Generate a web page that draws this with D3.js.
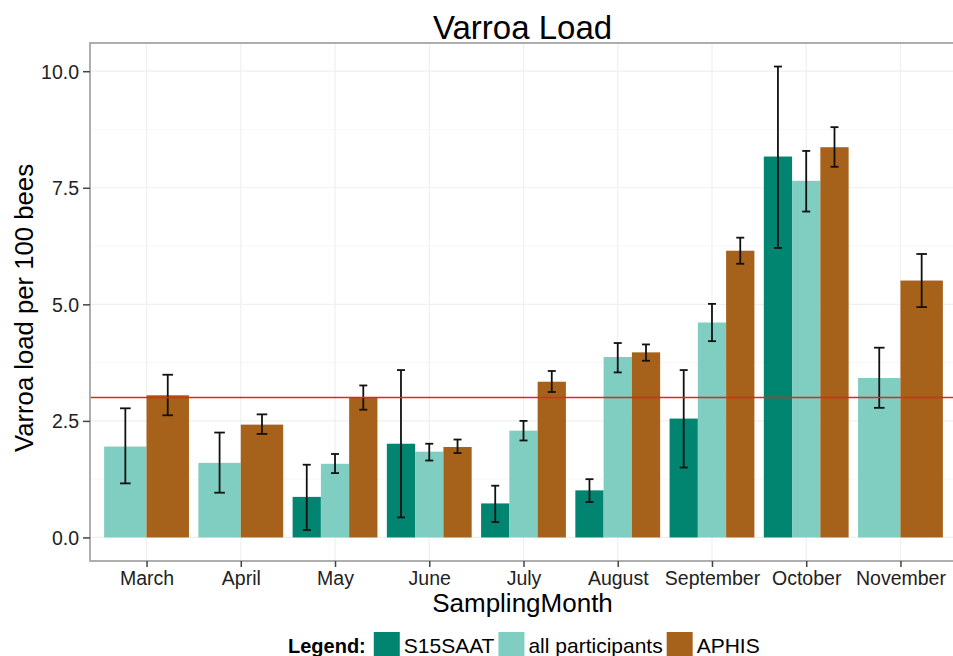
<!DOCTYPE html>
<html>
<head>
<meta charset="utf-8">
<script src="https://cdn.jsdelivr.net/npm/d3@7"></script>
<style>
  body { margin: 0; background: #fff; }
  svg text { font-family: "Liberation Sans", Arial, Helvetica, sans-serif; }
</style>
</head>
<body>
<div id="chart"></div>
<script>
// data (null = no bar for that group)
var months = ["March", "April", "May", "June", "July", "August", "September", "October", "November"];
var groups = ["S15SAAT", "all participants", "APHIS"];
var colors = ["#018571", "#80cdc1", "#a6611a"];

var s15Mean  = [null, null, 0.87, 2.01, 0.73, 1.01, 2.55, 8.17, null];
var s15Lo    = [null, null, 0.16, 0.43, 0.33, 0.76, 1.50, 6.21, null];
var s15Hi    = [null, null, 1.56, 3.59, 1.11, 1.25, 3.59, 10.10, null];

var allMean  = [1.95, 1.60, 1.58, 1.84, 2.29, 3.87, 4.61, 7.65, 3.42];
var allLo    = [1.16, 0.96, 1.38, 1.65, 2.08, 3.54, 4.21, 6.99, 2.78];
var allHi    = [2.77, 2.25, 1.79, 2.01, 2.50, 4.17, 5.01, 8.29, 4.07];

var aphisMean = [3.05, 2.42, 3.01, 1.94, 3.34, 3.97, 6.15, 8.37, 5.51];
var aphisLo   = [2.62, 2.22, 2.74, 1.81, 3.12, 3.79, 5.87, 7.95, 4.94];
var aphisHi   = [3.49, 2.64, 3.26, 2.10, 3.57, 4.14, 6.43, 8.80, 6.08];

var threshold = 3;
var yTicks = [0, 2.5, 5, 7.5, 10];
var yMinor = [1.25, 3.75, 6.25, 8.75];

var W = 953, H = 656;
var pL = 90, pR = 957, pT = 43, pB = 561;

var svg = d3.select("#chart").append("svg")
    .attr("width", W)
    .attr("height", H);

var x = d3.scalePoint().domain(months).range([pL, pR]).padding(0.6);
var y = d3.scaleLinear().domain([-0.505, 10.605]).range([pB, pT]);
var step = x.step();

// grid
var grid = svg.append("g");
grid.selectAll(".minor").data(yMinor).enter().append("line")
    .attr("x1", pL).attr("x2", pR)
    .attr("y1", d => y(d)).attr("y2", d => y(d))
    .attr("stroke", "#f7f7f7").attr("stroke-width", 1);
grid.selectAll(".major").data(yTicks).enter().append("line")
    .attr("x1", pL).attr("x2", pR)
    .attr("y1", d => y(d)).attr("y2", d => y(d))
    .attr("stroke", "#efefef").attr("stroke-width", 1.2);
grid.selectAll(".vx").data(months).enter().append("line")
    .attr("x1", d => x(d)).attr("x2", d => x(d))
    .attr("y1", pT).attr("y2", pB)
    .attr("stroke", "#efefef").attr("stroke-width", 1.2);

// build bar records, dodging only the groups present in each month
var series = [
  {mean: s15Mean, lo: s15Lo, hi: s15Hi},
  {mean: allMean, lo: allLo, hi: allHi},
  {mean: aphisMean, lo: aphisLo, hi: aphisHi}
];
var bars = [];
months.forEach(function(m, i) {
  var present = [];
  series.forEach(function(s, g) { if (s.mean[i] != null) present.push(g); });
  var bw = step * 0.9 / present.length;
  var x0 = x(m) - step * 0.45;
  present.forEach(function(g, k) {
    bars.push({
      month: m, g: g,
      x: x0 + k * bw, w: bw,
      mean: series[g].mean[i], lo: series[g].lo[i], hi: series[g].hi[i]
    });
  });
});

svg.append("g").selectAll("rect").data(bars).enter().append("rect")
    .attr("x", d => d.x)
    .attr("width", d => d.w)
    .attr("y", d => y(d.mean))
    .attr("height", d => y(0) - y(d.mean))
    .attr("fill", d => colors[d.g]);

// error bars
var eb = svg.append("g").attr("stroke", "#111").attr("stroke-width", 1.8);
bars.forEach(function(d) {
  var cx = d.x + d.w / 2, cw = Math.max(8, d.w * 0.25) / 2;
  eb.append("line").attr("x1", cx).attr("x2", cx).attr("y1", y(d.lo)).attr("y2", y(d.hi));
  eb.append("line").attr("x1", cx - cw).attr("x2", cx + cw).attr("y1", y(d.lo)).attr("y2", y(d.lo));
  eb.append("line").attr("x1", cx - cw).attr("x2", cx + cw).attr("y1", y(d.hi)).attr("y2", y(d.hi));
});

// threshold line
svg.append("line")
    .attr("x1", pL).attr("x2", pR)
    .attr("y1", y(threshold)).attr("y2", y(threshold))
    .attr("stroke", "#e8241c").attr("stroke-width", 1.5);

// panel border
svg.append("rect")
    .attr("x", pL).attr("y", pT)
    .attr("width", pR - pL).attr("height", pB - pT)
    .attr("fill", "none").attr("stroke", "#a6a6a6").attr("stroke-width", 1.8);

// axes
var yAxis = svg.append("g").attr("transform", "translate(" + pL + ",0)")
    .call(d3.axisLeft(y).tickValues(yTicks).tickFormat(d3.format(".1f")).tickSize(7).tickPadding(4));
var xAxis = svg.append("g").attr("transform", "translate(0," + pB + ")")
    .call(d3.axisBottom(x).tickSize(6).tickPadding(4));
[yAxis, xAxis].forEach(function(a) {
  a.select(".domain").remove();
  a.selectAll(".tick line").attr("stroke", "#444").attr("stroke-width", 1.5);
  a.selectAll(".tick text").attr("fill", "#222")
      .style("font-size", "19.5px")
      .style("font-family", "'Liberation Sans', Arial, sans-serif");
});
xAxis.selectAll(".tick text").attr("dy", null).attr("y", 24);
yAxis.selectAll(".tick text").attr("dy", "0.36em");

// titles
svg.append("text")
    .attr("x", (pL + pR) / 2 - 1).attr("y", 39)
    .attr("text-anchor", "middle")
    .style("font-size", "33px")
    .text("Varroa Load");

svg.append("text")
    .attr("x", (pL + pR) / 2 - 1).attr("y", 612)
    .attr("text-anchor", "middle")
    .style("font-size", "26px")
    .text("SamplingMonth");

svg.append("text")
    .attr("transform", "translate(33," + ((pT + pB) / 2 + 6) + ") rotate(-90)")
    .attr("text-anchor", "middle")
    .style("font-size", "25.7px")
    .text("Varroa load per 100 bees");

// legend
var leg = svg.append("g");
var lx = 288, ly = 653;
var lt = leg.append("text").attr("x", lx).attr("y", ly)
    .style("font-size", "20px").style("font-weight", "bold")
    .text("Legend:");
lx += lt.node().getComputedTextLength() + 8;
groups.forEach(function(g, i) {
  leg.append("rect").attr("x", lx).attr("y", 632).attr("width", 26).attr("height", 26)
      .attr("fill", colors[i]);
  lx += 30;
  var t = leg.append("text").attr("x", lx).attr("y", ly)
      .style("font-size", "21px").text(g);
  lx += t.node().getComputedTextLength() + 4;
});
</script>
</body>
</html>
